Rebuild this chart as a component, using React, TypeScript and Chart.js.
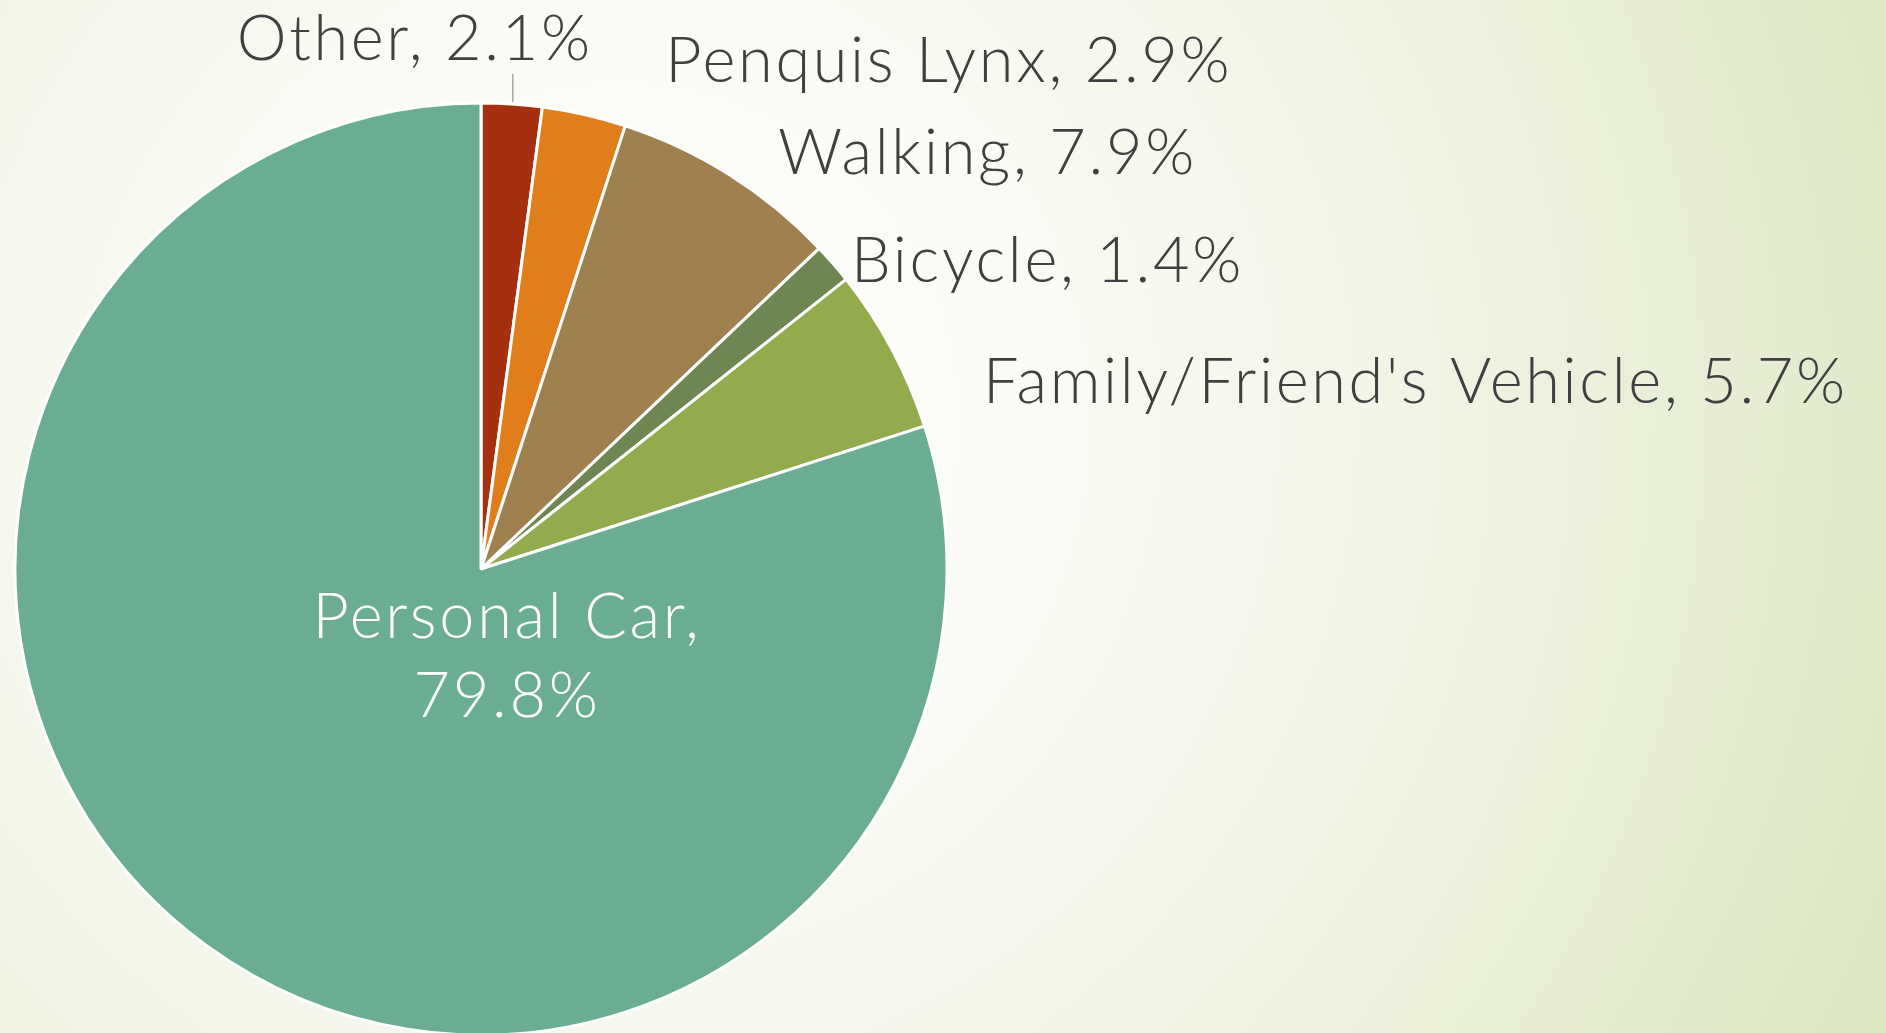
import React, { useEffect, useRef } from "react";
import { Chart, registerables } from "chart.js";

Chart.register(...registerables);

const categories = ["Other", "Penquis Lynx", "Walking", "Bicycle", "Family/Friend's Vehicle", "Personal Car"];
const values = [2.1, 2.9, 7.9, 1.4, 5.7, 79.8];
const sliceColors = ["#a5300f", "#df7e1b", "#9f8150", "#6e8652", "#93aa4d", "#6aad93"];

// label placement relative to the slice's outer mid point ("edge") or the pie centre ("center")
const labelLayout = [
  { anchor: "edge", dx: -97, dy: -44, align: "center", leader: true, color: "#404040" },
  { anchor: "edge", dx: 81, dy: -33, align: "left", leader: false, color: "#404040" },
  { anchor: "edge", dx: 48, dy: -1, align: "left", leader: false, color: "#404040" },
  { anchor: "edge", dx: 18, dy: 18, align: "left", leader: false, color: "#404040" },
  { anchor: "edge", dx: 91, dy: 54, align: "left", leader: false, color: "#404040" },
  { anchor: "center", dx: 26, dy: 69, align: "center", leader: false, color: "#ffffff" },
];

const FONT = "300 63px Lato, 'Open Sans', sans-serif";
const LETTER_SPACING = "2.7px";

const backgroundPlugin = {
  id: "bg",
  beforeDraw(chart: any) {
    const { ctx, width, height } = chart;
    const g = ctx.createRadialGradient(620, 420, 0, 620, 420, 1410);
    g.addColorStop(0, "#ffffff");
    g.addColorStop(0.3, "#fafbf5");
    g.addColorStop(0.55, "#f1f5e6");
    g.addColorStop(0.8, "#e6edd3");
    g.addColorStop(1, "#dce6c2");
    ctx.save();
    ctx.fillStyle = g;
    ctx.fillRect(0, 0, width, height);
    ctx.restore();
  },
};

const labelPlugin = {
  id: "sliceLabels",
  afterDatasetsDraw(chart: any) {
    const { ctx } = chart;
    const meta = chart.getDatasetMeta(0);
    ctx.save();
    ctx.font = FONT;
    try {
      (ctx as any).letterSpacing = LETTER_SPACING;
    } catch (e) {}
    ctx.textBaseline = "alphabetic";
    meta.data.forEach((arc: any, i: number) => {
      const p = arc.getProps(["x", "y", "startAngle", "endAngle", "outerRadius"], true);
      const mid = (p.startAngle + p.endAngle) / 2;
      const lay = labelLayout[i];
      const ex = p.x + Math.cos(mid) * p.outerRadius;
      const ey = p.y + Math.sin(mid) * p.outerRadius;
      const bx = lay.anchor === "edge" ? ex : p.x;
      const by = lay.anchor === "edge" ? ey : p.y;
      const v = values[i].toFixed(1) + "%";
      ctx.fillStyle = lay.color;
      ctx.textAlign = lay.align;
      if (lay.leader) {
        ctx.strokeStyle = "#a6a6a6";
        ctx.lineWidth = 1.5;
        ctx.beginPath();
        ctx.moveTo(ex + 1, ey - 2);
        ctx.lineTo(ex + 1, ey - 30);
        ctx.stroke();
      }
      if (lay.anchor === "center") {
        ctx.fillText(categories[i] + ",", bx + lay.dx, by + lay.dy);
        ctx.fillText(v, bx + lay.dx, by + lay.dy + 79);
      } else {
        ctx.fillText(categories[i] + ", " + v, bx + lay.dx, by + lay.dy);
      }
    });
    ctx.restore();
  },
};

export default function App() {
  const ref = useRef<HTMLCanvasElement | null>(null);
  useEffect(() => {
    document.body.style.margin = "0";
    const chart = new Chart(ref.current as HTMLCanvasElement, {
      type: "pie",
      data: {
        labels: categories,
        datasets: [
          {
            data: values,
            backgroundColor: sliceColors,
            borderColor: "#ffffff",
            borderWidth: 3,
          },
        ],
      },
      options: {
        animation: false,
        responsive: false,
        radius: 466,
        layout: { padding: { left: 0, right: 924, top: 105, bottom: 0 } },
        plugins: { legend: { display: false }, tooltip: { enabled: false } },
      } as any,
      plugins: [backgroundPlugin, labelPlugin],
    });
    return () => chart.destroy();
  }, []);
  return (
    <div style={{ width: 1886, height: 1033 }}>
      <canvas ref={ref} width={1886} height={1033} style={{ display: "block" }} />
    </div>
  );
}
